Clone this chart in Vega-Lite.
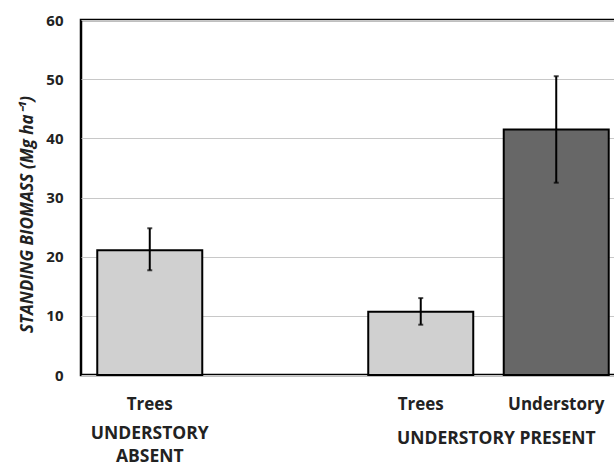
{
  "$schema": "https://vega.github.io/schema/vega-lite/v6.json",
  "autosize": "none",
  "padding": {"left": 81, "top": 20, "right": 0, "bottom": 92},
  "width": 544,
  "height": 355,
  "config": {
    "font": "Open Sans",
    "view": {"stroke": "#000000", "strokeWidth": 2.5}
  },
  "data": {
    "values": [
      {"slot": "ABSENT|Trees", "component": "Trees", "biomass": 21.1, "lo": 17.7, "hi": 24.8},
      {"slot": "PRESENT|Trees", "component": "Trees", "biomass": 10.7, "lo": 8.5, "hi": 13.0},
      {"slot": "PRESENT|Understory", "component": "Understory", "biomass": 41.5, "lo": 32.5, "hi": 50.5}
    ]
  },
  "encoding": {
    "x": {
      "field": "slot",
      "type": "nominal",
      "sort": null,
      "scale": {
        "domain": ["ABSENT|Trees", "spacer", "PRESENT|Trees", "PRESENT|Understory"],
        "paddingInner": 0.225,
        "paddingOuter": 0.12
      },
      "axis": {
        "title": null,
        "domain": false,
        "ticks": false,
        "labelAngle": 0,
        "labelExpr": "indexof(datum.value, '|') >= 0 ? split(datum.value, '|')[1] : ''",
        "labelFont": "Open Sans",
        "labelFontSize": 17,
        "labelFontWeight": "bold",
        "labelColor": "#222222",
        "labelPadding": 21
      }
    }
  },
  "layer": [
    {
      "mark": {"type": "bar", "stroke": "#000000", "strokeWidth": 2},
      "encoding": {
        "y": {
          "field": "biomass",
          "type": "quantitative",
          "scale": {"domain": [0, 60], "nice": false},
          "axis": {
            "values": [0, 10, 20, 30, 40, 50, 60],
            "title": "STANDING BIOMASS (Mg ha⁻¹)",
            "titleFont": "Open Sans",
            "titleFontSize": 17,
            "titleFontStyle": "italic",
            "titleFontWeight": "bold",
            "titleColor": "#222222",
            "titlePadding": 9,
            "titleY": 194,
            "labelFont": "Open Sans",
            "labelFontSize": 15,
            "labelFontWeight": "bold",
            "labelColor": "#222222",
            "labelPadding": 18,
            "ticks": false,
            "domain": false,
            "gridColor": "#c8c8c8",
            "gridWidth": 1.2
          }
        },
        "color": {
          "field": "component",
          "type": "nominal",
          "scale": {"domain": ["Trees", "Understory"], "range": ["#d0d0d0", "#676767"]},
          "legend": null
        }
      }
    },
    {
      "mark": {"type": "rule", "color": "#000000", "strokeWidth": 2},
      "encoding": {
        "y": {"field": "lo", "type": "quantitative"},
        "y2": {"field": "hi"}
      }
    },
    {
      "mark": {"type": "tick", "color": "#000000", "size": 5, "thickness": 2},
      "encoding": {"y": {"field": "lo", "type": "quantitative"}}
    },
    {
      "mark": {"type": "tick", "color": "#000000", "size": 5, "thickness": 2},
      "encoding": {"y": {"field": "hi", "type": "quantitative"}}
    },
    {
      "data": {"values": [{"slot": "ABSENT|Trees", "label": "UNDERSTORY\nABSENT"}]},
      "mark": {
        "type": "text",
        "y": "height",
        "dy": 50,
        "baseline": "top",
        "align": "center",
        "lineBreak": "\n",
        "lineHeight": 23,
        "font": "Open Sans",
        "fontSize": 17.5,
        "fontWeight": "bold",
        "color": "#222222"
      },
      "encoding": {
        "x": {"field": "slot", "type": "nominal", "bandPosition": 0.5},
        "text": {"field": "label"}
      }
    },
    {
      "data": {"values": [{"slot": "PRESENT|Trees", "label": "UNDERSTORY PRESENT"}]},
      "mark": {
        "type": "text",
        "y": "height",
        "dy": 55,
        "baseline": "top",
        "align": "center",
        "font": "Open Sans",
        "fontSize": 17.5,
        "fontWeight": "bold",
        "color": "#222222"
      },
      "encoding": {
        "x": {"field": "slot", "type": "nominal", "bandPosition": 1.22},
        "text": {"field": "label"}
      }
    }
  ]
}
